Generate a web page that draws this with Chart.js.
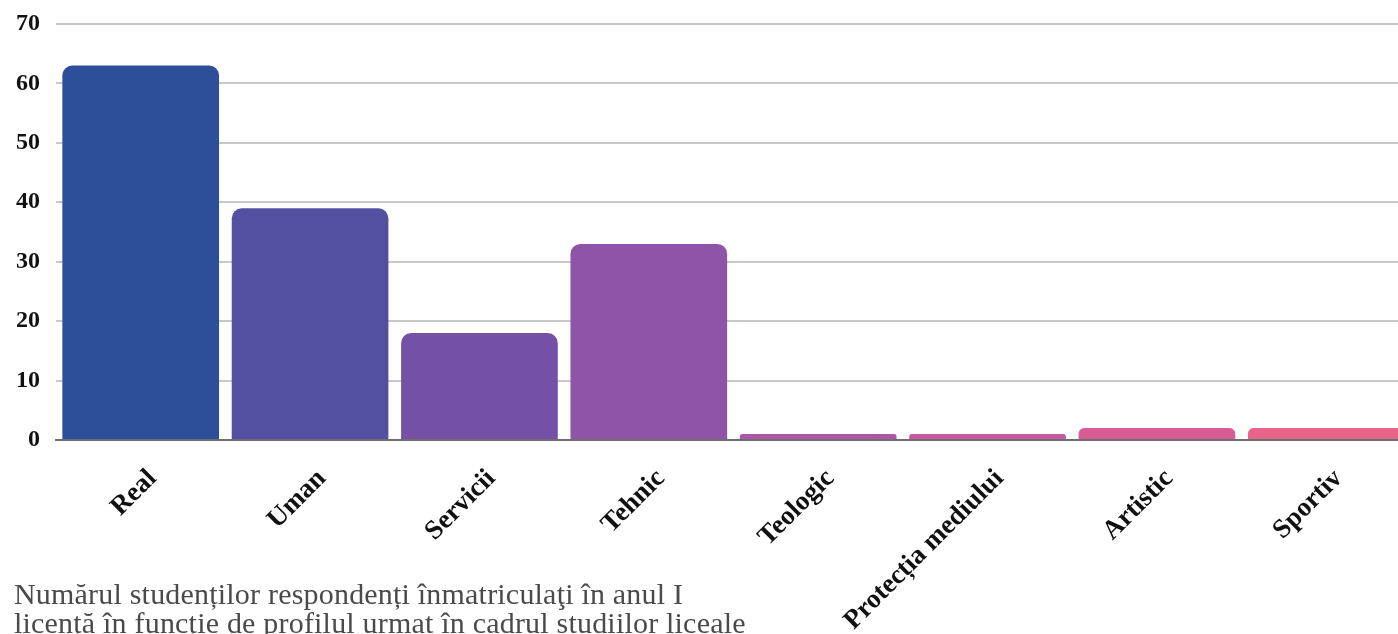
<!DOCTYPE html>
<html>
<head>
<meta charset="utf-8">
<script src="https://cdn.jsdelivr.net/npm/chart.js@4"></script>
<style>
    body { margin: 0; overflow: hidden; background: #fff; }
    #wrap { position: relative; width: 1414px; height: 640px; }
    #caption {
        position: absolute; left: 14px; top: 579px;
        font-family: "Liberation Serif", serif; font-size: 30px; line-height: 29px;
        color: #4a4a4a; white-space: nowrap; letter-spacing: 0.2px;
    }
</style>
</head>
<body>
<div id="wrap">
    <canvas id="chart" width="1414" height="640"></canvas>
    <div id="caption">Numărul studenților respondenți înmatriculaţi în anul I<br>licență în funcție de profilul urmat în cadrul studiilor liceale</div>
</div>
<script>
const categories = ["Real", "Uman", "Servicii", "Tehnic", "Teologic", "Protecția mediului", "Artistic", "Sportiv"];
const values = [63, 39, 18, 33, 1, 1, 2, 2];
const barColors = ["#2d4e99", "#5450a1", "#7450a6", "#8f53a7", "#ad56a5", "#c6599f", "#d85c95", "#e8648a"];
const yTicks = [0, 10, 20, 30, 40, 50, 60, 70];

const ctx = document.getElementById("chart").getContext("2d");
new Chart(ctx, {
    type: "bar",
    data: {
        labels: categories,
        datasets: [{
            data: values,
            backgroundColor: barColors,
            borderRadius: { topLeft: 10, topRight: 10 },
            borderSkipped: "bottom",
            categoryPercentage: 0.925,
            barPercentage: 1
        }]
    },
    options: {
        responsive: false,
        animation: false,
        layout: { padding: { top: 24, right: 3, left: 0, bottom: 0 } },
        plugins: { legend: { display: false }, tooltip: { enabled: false } },
        scales: {
            x: {
                afterFit: axis => { axis.height = 200; axis.paddingLeft = 0; axis.paddingRight = 0; },
                grid: { display: false, drawTicks: false },
                border: { color: "#6e6e6e", width: 2 },
                ticks: {
                    color: "#111",
                    font: { family: "Liberation Serif", size: 27, weight: "bold" },
                    minRotation: 45, maxRotation: 45,
                    padding: 23,
                    labelOffset: 12
                }
            },
            y: {
                min: 0, max: 70,
                afterFit: axis => { axis.width = 56; axis.paddingTop = 0; axis.paddingBottom = 0; },
                afterBuildTicks: axis => { axis.ticks = yTicks.map(v => ({ value: v })); },
                grid: { color: "#c8c8c8", lineWidth: 2, drawTicks: false },
                border: { display: false },
                ticks: {
                    color: "#111",
                    font: { family: "Liberation Serif", size: 24, weight: "bold" },
                    padding: 16
                }
            }
        }
    }
});
</script>
</body>
</html>
